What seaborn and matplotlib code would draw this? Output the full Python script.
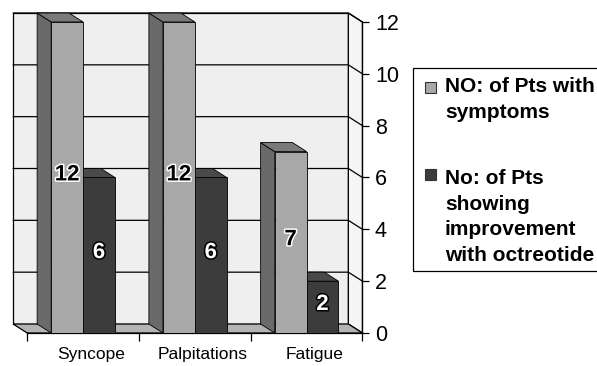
import numpy as np
import pandas as pd
import matplotlib
matplotlib.use("Agg")
import matplotlib.pyplot as plt
import seaborn as sns
from matplotlib.patches import Polygon, Rectangle
import matplotlib.patheffects as pe

# ---------------- data ----------------
categories = ["Syncope", "Palpitations", "Fatigue"]
series_names = ["NO: of Pts with\nsymptoms",
                "No: of Pts\nshowing\nimprovement\nwith octreotide"]
symptoms = [12, 12, 7]
improved = [6, 6, 2]
y_ticks = [0, 2, 4, 6, 8, 10, 12]

df = pd.DataFrame({
    "category": categories * 2,
    "series": [series_names[0]] * len(categories) + [series_names[1]] * len(categories),
    "value": symptoms + improved,
})

# ---------------- style ----------------
sns.set_style("white")
plt.rcParams["font.family"] = ["Liberation Sans", "DejaVu Sans"]

LIGHT, DARK = "#a8a8a8", "#3c3c3c"
LIGHT_SIDE, LIGHT_TOP = "#6a6a6a", "#7a7a7a"
DARK_SIDE, DARK_TOP = "#2a2a2a", "#4a4a4a"
WALL, SIDEWALL, FLOOR = "#efefef", "#f5f5f5", "#b4b4b4"
DX, DY = -0.126, 0.347   # 3-D depth offset (category units, value units)

W, H = 597, 366
fig = plt.figure(figsize=(W / 100, H / 100), dpi=100)


def fx(x):
    return x / W


def fy(y):
    return 1 - y / H


ax = fig.add_axes([fx(12), 33 / H, 351 / W, 320 / H])
ax.set_facecolor("none")

sns.barplot(data=df, x="category", y="value", hue="series",
            hue_order=series_names, palette=[LIGHT, DARK], width=0.57,
            gap=0, saturation=1, errorbar=None, legend=False, ax=ax,
            edgecolor="black", linewidth=0.6)

bars = list(ax.patches)
n = len(categories)
xl, xr = -0.5, n - 0.5
ymax = max(y_ticks)

# ---------------- walls / floor ----------------
ax.add_patch(Polygon([(xl + DX, DY), (xr + DX, DY), (xr + DX, ymax + DY), (xl + DX, ymax + DY)],
                     closed=True, facecolor=WALL, edgecolor="black", lw=0.9, zorder=0.5, clip_on=False))
ax.add_patch(Polygon([(xr + DX, DY), (xr, 0), (xr, ymax), (xr + DX, ymax + DY)],
                     closed=True, facecolor=SIDEWALL, edgecolor="black", lw=0.9, zorder=0.6, clip_on=False))
ax.add_patch(Polygon([(xl, 0), (xr, 0), (xr + DX, DY), (xl + DX, DY)],
                     closed=True, facecolor=FLOOR, edgecolor="black", lw=0.9, zorder=1, clip_on=False))
for v in y_ticks[1:]:
    ax.plot([xl + DX, xr + DX, xr], [v + DY, v + DY, v], color="black", lw=0.9,
            zorder=1.5, clip_on=False)

# ---------------- 3-D bar faces ----------------
for i, bar in enumerate(bars):
    light = i < n
    z = 4 if light else 3
    bar.set_zorder(z)
    x0, w, h = bar.get_x(), bar.get_width(), bar.get_height()
    side_c = LIGHT_SIDE if light else DARK_SIDE
    top_c = LIGHT_TOP if light else DARK_TOP
    ax.add_patch(Polygon([(x0, 0), (x0, h), (x0 + DX, h + DY), (x0 + DX, DY)], closed=True,
                         facecolor=side_c, edgecolor="black", lw=0.6, zorder=z, clip_on=False))
    ax.add_patch(Polygon([(x0, h), (x0 + w, h), (x0 + w + DX, h + DY), (x0 + DX, h + DY)],
                         closed=True, facecolor=top_c, edgecolor="black", lw=0.6, zorder=z,
                         clip_on=False))
    fg, bg = ("black", "white") if light else ("white", "black")
    ax.text(x0 + w / 2, h / 2 + 0.1, f"{int(h)}", ha="center", va="center",
            fontsize=16, fontweight="bold", color=fg, zorder=6,
            path_effects=[pe.withStroke(linewidth=2.2, foreground=bg)])

# ---------------- axes ----------------
ax.set_xlim(xl + DX - 0.01, xr + 0.005)
ax.set_ylim(0, ymax + DY)
ax.spines["top"].set_visible(False)
ax.spines["left"].set_visible(False)
ax.spines["right"].set_position(("data", xr))
ax.spines["right"].set_bounds(0, ymax)
ax.spines["bottom"].set_bounds(xl, xr)
for s in ("right", "bottom"):
    ax.spines[s].set_color("black")
    ax.spines[s].set_linewidth(0.9)

ax.yaxis.tick_right()
ax.set_yticks(y_ticks)
ax.set_yticklabels([str(t) for t in y_ticks])
ax.tick_params(axis="y", which="major", direction="out", length=5, width=0.9,
               pad=4, labelsize=15.5, colors="black", right=True, left=False)

ax.set_xticks(np.arange(n + 1) - 0.5)
ax.set_xticklabels([])
ax.set_xticks(np.arange(n) + 0.07, minor=True)
ax.set_xticklabels(categories, minor=True)
ax.tick_params(axis="x", which="major", direction="out", length=6, width=0.9,
               bottom=True, colors="black")
ax.tick_params(axis="x", which="minor", length=0, pad=10, labelsize=12.5, labelcolor="black")
ax.set_xlabel("")
ax.set_ylabel("")
ax.grid(False)

# ---------------- legend (drawn as a boxed key) ----------------
fig.add_artist(Rectangle((fx(413), fy(271)), (W + 5 - 413) / W, (271 - 68) / H,
                         transform=fig.transFigure, facecolor="white", edgecolor="black",
                         lw=0.9, clip_on=False))
legend_rows = [(series_names[0], LIGHT, 82, 77), (series_names[1], DARK, 169, 169)]
for label, colour, mtop, ttop in legend_rows:
    fig.add_artist(Rectangle((fx(425), fy(mtop + 11)), 11 / W, 11 / H,
                             transform=fig.transFigure, facecolor=colour,
                             edgecolor="#333333", lw=0.8))
    fig.text(fx(445), fy(ttop), label, ha="left", va="top", fontsize=15,
             fontweight="bold", color="black", linespacing=1.45)

fig.savefig("out.png", dpi=100, facecolor="white")
